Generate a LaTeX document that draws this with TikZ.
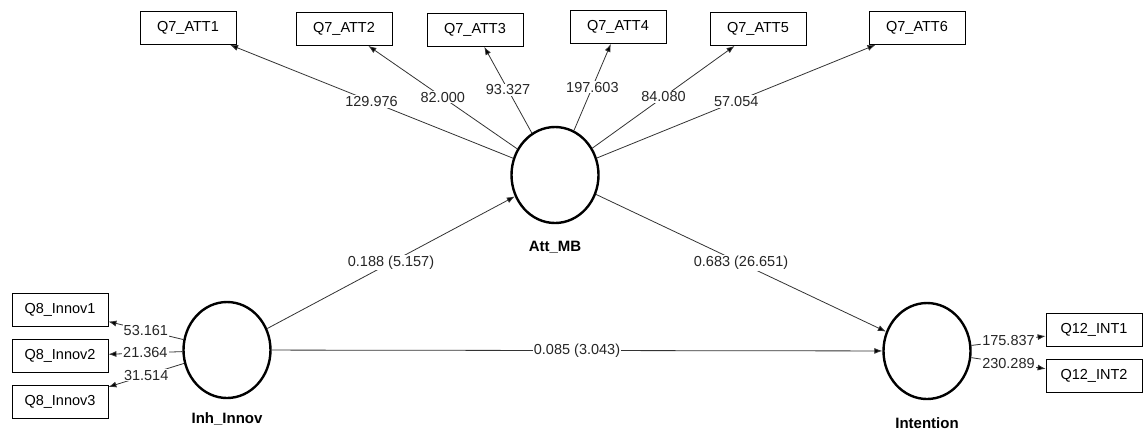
\documentclass[tikz,border=0pt]{standalone}
\usepackage{fontspec}
\setmainfont{Liberation Sans}
\usetikzlibrary{arrows,arrows.meta,shapes.geometric}

\begin{document}
\begin{tikzpicture}[x=1pt,y=-1pt,>={Latex[length=8pt,width=6pt]},
  lv/.style={draw,ellipse,line width=2.4pt,minimum width=87pt,minimum height=96pt},
  mv/.style={draw,line width=0.8pt,minimum width=96pt,minimum height=33pt,inner sep=0pt,font=\fontsize{14.5}{16}\selectfont},
  lvname/.style={font=\bfseries\fontsize{15}{17}\selectfont},
  ld/.style={fill=white,inner sep=1pt,text=black!85,font=\fontsize{14.5}{16}\selectfont},
  ln/.style={->,line width=0.8pt,draw=black!80}]
  \useasboundingbox (0,0) rectangle (1145,432);

  % latent variables
  \draw (555,175) node[lv] (att) {};
  \draw (227,350) node[lv] (inno) {};
  \draw (927,351) node[lv] (int) {};
  \draw (555,247) node[lvname] (attname) {Att\_MB};
  \draw (227,419) node[lvname] (innoname) {Inh\_Innov};
  \draw (927,423) node[lvname] (intname) {Intention};

  % indicators
  \draw (188,28) node[mv] (att1) {Q7\_ATT1};
  \draw (344,29) node[mv] (att2) {Q7\_ATT2};
  \draw (475,30) node[mv] (att3) {Q7\_ATT3};
  \draw (618,27) node[mv] (att4) {Q7\_ATT4};
  \draw (758,29) node[mv] (att5) {Q7\_ATT5};
  \draw (917,28) node[mv] (att6) {Q7\_ATT6};
  \draw (60,310) node[mv] (inno1) {Q8\_Innov1};
  \draw (60,356) node[mv] (inno2) {Q8\_Innov2};
  \draw (60,402) node[mv] (inno3) {Q8\_Innov3};
  \draw (1094,330) node[mv] (int1) {Q12\_INT1};
  \draw (1094,376) node[mv] (int2) {Q12\_INT2};

  \path[ln] (att) edge node[ld] {129.976} (att1);
  \path[ln] (att) edge node[ld] {82.000} (att2);
  \path[ln] (att) edge node[ld] {93.327} (att3);
  \path[ln] (att) edge node[ld] {197.603} (att4);
  \path[ln] (att) edge node[ld] {84.080} (att5);
  \path[ln] (att) edge node[ld] {57.054} (att6);
  \path[ln] (inno) edge node[ld] {53.161} (inno1);
  \path[ln] (inno) edge node[ld] {21.364} (inno2);
  \path[ln] (inno) edge node[ld] {31.514} (inno3);
  \path[ln] (int) edge node[ld] {175.837} (int1);
  \path[ln] (int) edge node[ld] {230.289} (int2);

  % paths
  \path[ln] (inno) edge node[ld] {0.188 (5.157)} (att);
  \path[ln] (att) edge node[ld] {0.683 (26.651)} (int);
  \path[ln] (inno) edge node[ld] {0.085 (3.043)} (int);

\end{tikzpicture}
\end{document}
